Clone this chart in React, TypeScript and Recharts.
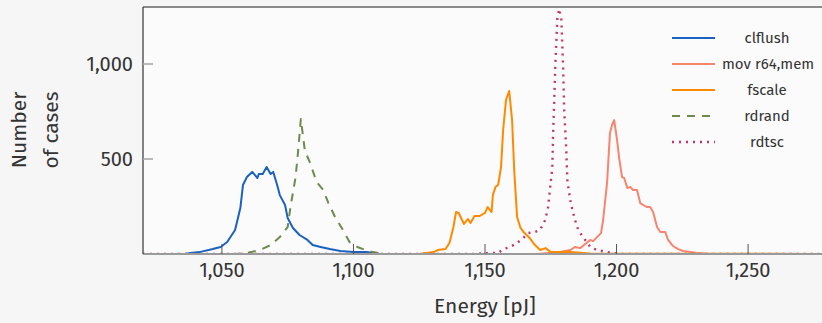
import { LineChart, Line, XAxis, YAxis, CartesianGrid } from "recharts";

document.body.style.margin = "0";
document.body.style.background = "#f6f6f6";

const FONT = "'Fira Sans', 'Noto Sans', sans-serif";

// energy [pJ] / number of cases
const clflushEnergy = [1020, 1036, 1038, 1041.5, 1046.5, 1049.5, 1052, 1055, 1057, 1058, 1059.5, 1061.5, 1063.5, 1064, 1065.5, 1067, 1068.5, 1069.5, 1071, 1072, 1074, 1075, 1077, 1079.5, 1082.5, 1084.5, 1087.5, 1091, 1095, 1100, 1105, 1110, 1280];
const clflushCases = [0, 0, 5, 10, 26, 37, 63, 126, 242, 363, 405, 432, 400, 421, 421, 458, 421, 432, 363, 310, 258, 189, 137, 100, 74, 47, 37, 26, 16, 10, 10, 0, 0];

const movEnergy = [1020, 1170, 1178.6, 1182.4, 1184.3, 1186.2, 1188.1, 1190, 1191.1, 1192.6, 1194.1, 1194.9, 1196.4, 1197.5, 1198.3, 1199.1, 1200.2, 1201, 1202.1, 1202.9, 1204.1, 1205.2, 1206.3, 1207.8, 1209, 1210.1, 1211.6, 1212.8, 1213.9, 1215.4, 1216.6, 1218.5, 1219.6, 1221.5, 1223.4, 1225.3, 1228, 1230.6, 1235, 1280];
const movCases = [0, 0, 10, 21, 37, 31, 53, 74, 68, 89, 110, 179, 374, 637, 679, 705, 600, 505, 405, 400, 347, 353, 337, 337, 268, 258, 247, 247, 221, 142, 116, 116, 74, 42, 26, 16, 10, 5, 0, 0];

const fscaleEnergy = [1020, 1125, 1130.5, 1132, 1135, 1136.5, 1138, 1139, 1140, 1142, 1143.5, 1144.5, 1146, 1148, 1150, 1151, 1152.5, 1153, 1154, 1155, 1156.1, 1156.9, 1158, 1159.2, 1160.3, 1161.1, 1162.2, 1163.5, 1165, 1167, 1169, 1171, 1173, 1175, 1178.5, 1182.5, 1190, 1280];
const fscaleCases = [0, 0, 10, 21, 26, 58, 142, 221, 216, 158, 184, 163, 200, 200, 216, 247, 221, 310, 353, 363, 458, 653, 811, 858, 705, 442, 195, 137, 110, 84, 47, 21, 31, 10, 10, 10, 3, 0];

const rdrandEnergy = [1020, 1055, 1059.5, 1064.5, 1068.5, 1072, 1075, 1076, 1078, 1079, 1080, 1081.5, 1083.5, 1086, 1088.5, 1090.5, 1093, 1096, 1098.5, 1101.5, 1104.5, 1107.5, 1112, 1280];
const rdrandCases = [0, 0, 5, 21, 47, 89, 142, 242, 405, 547, 710, 547, 479, 379, 337, 268, 195, 126, 63, 37, 21, 10, 0, 0];

const rdtscEnergy = [1020, 1145, 1152, 1155, 1157, 1159.5, 1162.2, 1164.5, 1166.4, 1169, 1170.9, 1172.9, 1174, 1174.8, 1175.6, 1175.9, 1176.3, 1176.7, 1177.1, 1177.5, 1178.2, 1179, 1179.7, 1180.1, 1180.9, 1181.3, 1182.4, 1183.5, 1185, 1186.2, 1188.1, 1190, 1192.6, 1196.4, 1202, 1280];
const rdtscCases = [0, 0, 5, 5, 26, 37, 58, 84, 110, 116, 126, 179, 247, 353, 458, 637, 800, 984, 1110, 1237, 1290, 1237, 984, 758, 547, 389, 284, 216, 142, 110, 74, 37, 21, 10, 0, 0];

const xTicks = [1050, 1100, 1150, 1200, 1250];
const yTicks = [500, 1000];
const xDomain = [1020, 1280];
const yDomain = [0, 1300];

const toPoints = (energy: number[], cases: number[]) =>
  energy.map((e, i) => ({ energy: e, cases: cases[i] }));

const series = [
  { name: "clflush", data: toPoints(clflushEnergy, clflushCases), color: "#1a62c0", dash: undefined, width: 2 },
  { name: "mov r64,mem", data: toPoints(movEnergy, movCases), color: "#f7846e", dash: undefined, width: 2 },
  { name: "fscale", data: toPoints(fscaleEnergy, fscaleCases), color: "#ff8a00", dash: undefined, width: 2 },
  { name: "rdrand", data: toPoints(rdrandEnergy, rdrandCases), color: "#6f8a4f", dash: "8 7", width: 2 },
  { name: "rdtsc", data: toPoints(rdtscEnergy, rdtscCases), color: "#c2336a", dash: "2 5", width: 2.4 },
];

const YTitle = () => (
  <text transform="translate(26,130) rotate(-90)" textAnchor="middle" fill="#333" fontSize={21} fontFamily={FONT}>
    <tspan x={0} y={0}>Number</tspan>
    <tspan x={0} y={32}>of cases</tspan>
  </text>
);

function ChartLegend() {
  return (
    <div style={{ position: "absolute", left: 672, top: 25, fontFamily: FONT, fontSize: 15, color: "#333" }}>
      {series.map((s) => (
        <div key={s.name} style={{ display: "flex", alignItems: "center", height: 26 }}>
          <svg width={43} height={4}>
            <line x1={0} y1={2} x2={43} y2={2} stroke={s.color} strokeWidth={s.width} strokeDasharray={s.dash} />
          </svg>
          <span style={{ width: 90, marginLeft: 7, textAlign: "center", whiteSpace: "nowrap" }}>{s.name}</span>
        </div>
      ))}
    </div>
  );
}

export default function App() {
  return (
    <div style={{ position: "relative", width: 822, height: 323, overflow: "hidden", background: "#f6f6f6" }}>
      <LineChart width={828} height={323} margin={{ top: 0, right: 0, left: 0, bottom: 0 }}>
        <CartesianGrid horizontal={false} vertical={false} fill="#fbfbfb" />
        <XAxis
          dataKey="energy"
          type="number"
          domain={xDomain}
          ticks={xTicks}
          interval={0}
          allowDataOverflow
          height={69}
          tickSize={-10}
          tickMargin={19}
          tickFormatter={(v: number) => v.toLocaleString("en-US")}
          tick={{ fill: "#333", fontSize: 20, fontFamily: FONT }}
          tickLine={{ stroke: "#555", strokeWidth: 1 }}
          axisLine={{ stroke: "#9a9a9a", strokeWidth: 2 }}
          label={{ value: "Energy [pJ]", position: "insideBottom", offset: 10, fill: "#333", fontSize: 21, fontFamily: FONT }}
        />
        <XAxis
          xAxisId="top"
          orientation="top"
          dataKey="energy"
          type="number"
          domain={xDomain}
          ticks={xTicks}
          interval={0}
          height={7}
          tick={false}
          tickSize={-10}
          tickLine={{ stroke: "#999", strokeWidth: 1.6 }}
          axisLine={{ stroke: "#666", strokeWidth: 1.5 }}
        />
        <YAxis
          type="number"
          domain={yDomain}
          ticks={yTicks}
          interval={0}
          allowDataOverflow
          width={143}
          tickSize={-10}
          tickMargin={20}
          tickFormatter={(v: number) => v.toLocaleString("en-US")}
          tick={{ fill: "#333", fontSize: 20, fontFamily: FONT }}
          tickLine={{ stroke: "#aaa", strokeWidth: 1.6 }}
          axisLine={{ stroke: "#333", strokeWidth: 1.2 }}
          label={{ content: YTitle }}
        />
        <YAxis
          yAxisId="right"
          orientation="right"
          type="number"
          domain={yDomain}
          ticks={yTicks}
          interval={0}
          width={1}
          tick={false}
          tickSize={-10}
          tickLine={{ stroke: "#aaa", strokeWidth: 1.6 }}
          axisLine={false}
        />
        {series.map((s) => (
          <Line
            key={s.name}
            data={s.data}
            dataKey="cases"
            name={s.name}
            type="linear"
            stroke={s.color}
            strokeWidth={s.width}
            strokeDasharray={s.dash}
            strokeLinejoin="round"
            dot={false}
            activeDot={false}
            isAnimationActive={false}
          />
        ))}
      </LineChart>
      <ChartLegend />
    </div>
  );
}
